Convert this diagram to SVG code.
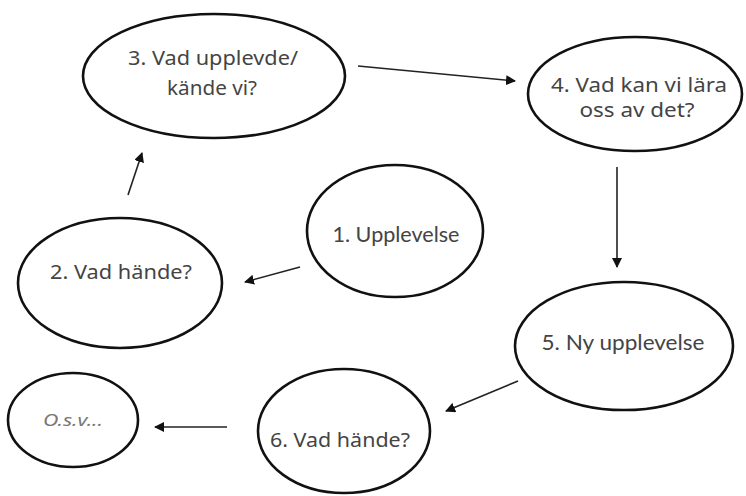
<svg xmlns="http://www.w3.org/2000/svg" width="746" height="496" viewBox="0 0 746 496">
<style>
.node ellipse{fill:#fff;stroke:#111;stroke-width:2.6}
.t{font-family:"Noto Sans","DejaVu Sans",sans-serif;font-size:20px;fill:#444;text-anchor:middle}
.c{font-family:Lato,"Liberation Sans",sans-serif;font-size:21px;fill:#444;text-anchor:middle}
.i{font-family:"Noto Sans","DejaVu Sans",sans-serif;font-size:17px;font-style:italic;fill:#777;text-anchor:middle}
.conn line{stroke:#222;stroke-width:1.6;marker-end:url(#ah)}
</style>
<defs>
<marker id="ah" viewBox="0 0 10 10" refX="9" refY="5" markerWidth="10" markerHeight="10" markerUnits="userSpaceOnUse" orient="auto">
<path d="M0,0 L10,5 L0,10 z" fill="#111"/>
</marker>
</defs>
<rect width="746" height="496" fill="#fff"/>
<g id="connectors" class="conn">
<line x1="300" y1="267" x2="245" y2="282"/>
<line x1="128" y1="195" x2="142" y2="153"/>
<line x1="358" y1="66" x2="515" y2="81"/>
<line x1="617" y1="167" x2="617" y2="267"/>
<line x1="518" y1="381" x2="446" y2="411"/>
<line x1="227" y1="427" x2="155" y2="427"/>
</g>
<g id="n1" class="node"><ellipse cx="395" cy="231" rx="88" ry="66"/><text class="c" x="396" y="242" textLength="127" lengthAdjust="spacingAndGlyphs">1. Upplevelse</text></g>
<g id="n2" class="node"><ellipse cx="120" cy="283" rx="102" ry="65"/><text class="t" x="121" y="279" textLength="142" lengthAdjust="spacingAndGlyphs">2. Vad hände?</text></g>
<g id="n3" class="node"><ellipse cx="214" cy="76" rx="131" ry="62"/><text class="t" x="213" y="65" textLength="170" lengthAdjust="spacingAndGlyphs">3. Vad upplevde/</text><text class="t" x="212" y="95" textLength="90" lengthAdjust="spacingAndGlyphs">kände vi?</text></g>
<g id="n4" class="node"><ellipse cx="635" cy="94" rx="107" ry="57"/><text class="t" x="639" y="92" textLength="176" lengthAdjust="spacingAndGlyphs">4. Vad kan vi lära</text><text class="t" x="637" y="117" textLength="115" lengthAdjust="spacingAndGlyphs">oss av det?</text></g>
<g id="n5" class="node"><ellipse cx="624" cy="346" rx="109" ry="64"/><text class="c" x="623" y="350" textLength="163" lengthAdjust="spacingAndGlyphs">5. Ny upplevelse</text></g>
<g id="n6" class="node"><ellipse cx="344" cy="431" rx="86" ry="62"/><text class="t" x="340" y="447" textLength="140" lengthAdjust="spacingAndGlyphs">6. Vad hände?</text></g>
<g id="n7" class="node"><ellipse cx="73" cy="420" rx="65" ry="47"/><text class="i" x="73" y="426" textLength="60" lengthAdjust="spacingAndGlyphs">O.s.v...</text></g>
</svg>
